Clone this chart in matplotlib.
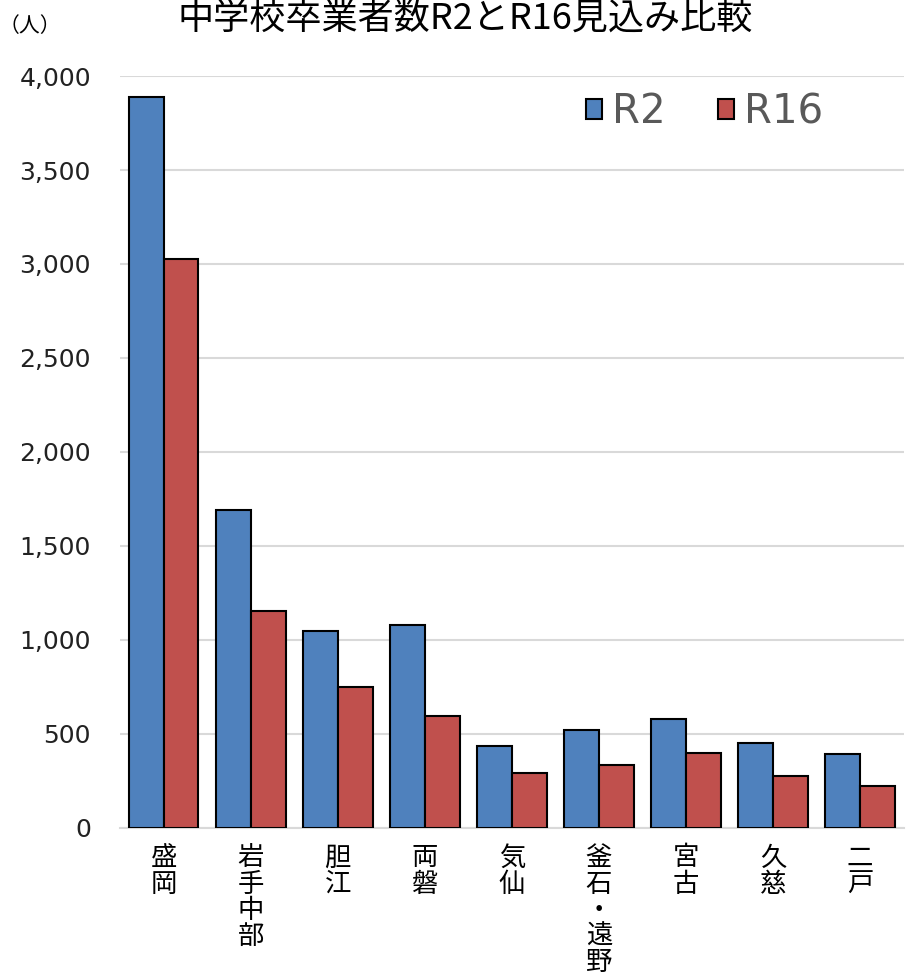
import matplotlib
matplotlib.use('Agg')
import matplotlib.pyplot as plt
import numpy as np
from matplotlib.ticker import FuncFormatter

plt.rcParams['font.family'] = ['Noto Sans CJK JP', 'DejaVu Sans']

# データ
areas = ['盛岡', '岩手中部', '胆江', '両磐', '気仙', '釜石・遠野', '宮古', '久慈', '二戸']
r2 = [3888, 1692, 1048, 1080, 437, 521, 580, 452, 394]
r16 = [3027, 1155, 750, 596, 293, 335, 399, 277, 223]

fig = plt.figure(figsize=(9.1, 9.75), dpi=100)
ax = fig.add_axes([0.132, 0.151, 0.861, 0.771])

x = np.arange(len(areas))
w = 0.4
ax.bar(x - w / 2, r2, width=w, color='#4F81BD', edgecolor='black', linewidth=1.5, label='R2', zorder=3)
ax.bar(x + w / 2, r16, width=w, color='#C0504D', edgecolor='black', linewidth=1.5, label='R16', zorder=3)

ax.set_xlim(-0.5, len(areas) - 0.5)
ax.set_ylim(0, 4000)
ax.set_yticks(np.arange(0, 4001, 500))
ax.yaxis.set_major_formatter(FuncFormatter(lambda v, p: f'{int(v):,}'))
ax.grid(axis='y', color='#D9D9D9', linewidth=1.5, zorder=0)

for s in ['top', 'right', 'left']:
    ax.spines[s].set_visible(False)
ax.spines['bottom'].set_color('#D9D9D9')
ax.spines['bottom'].set_linewidth(1.5)

ax.tick_params(axis='y', length=0, pad=21, labelsize=18, labelcolor='#222222')
for t in ax.get_yticklabels():
    t.set_family('DejaVu Sans')
ax.tick_params(axis='x', length=0, pad=12)
ax.set_xticks(x)
ax.set_xticklabels(['\n'.join(a) for a in areas], fontsize=19, va='top', linespacing=0.96)

leg = ax.legend(loc='center', bbox_to_anchor=(0.746, 0.952), ncol=2, frameon=False,
                prop={'family': 'DejaVu Sans', 'size': 29}, handlelength=0.4,
                handleheight=0.4, handletextpad=0.25, columnspacing=1.3, labelcolor='#595959')

fig.text(0.511, 0.980, '中学校卒業者数R2とR16見込み比較', ha='center', va='center', fontsize=26)
fig.text(0.033, 0.973, '（人）', ha='center', va='center', fontsize=15)

fig.savefig('out.png', dpi=100)
